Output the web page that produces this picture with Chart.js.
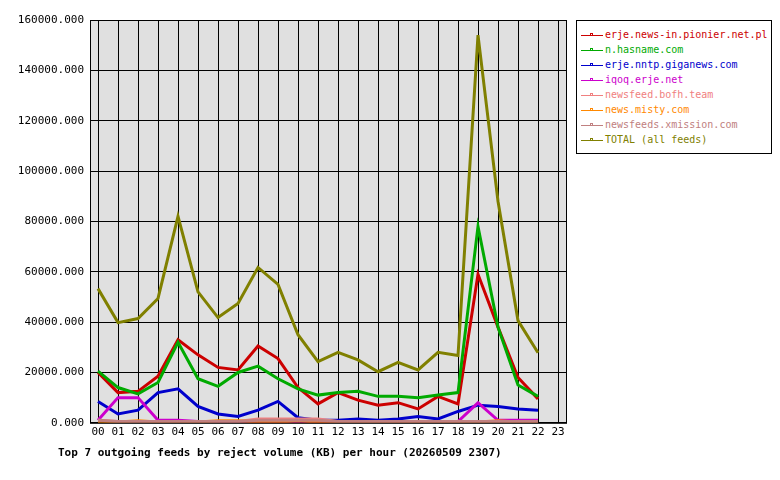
<!DOCTYPE html>
<html><head><meta charset="utf-8">
<script src="https://cdn.jsdelivr.net/npm/chart.js@4/dist/chart.umd.min.js"></script>
<style>
body{margin:0;background:#fff;font-family:"DejaVu Sans Mono",monospace;}
#wrap{position:relative;width:780px;height:480px;}
#legend{position:absolute;left:576px;top:20px;width:196px;height:134px;border:1px solid #000;background:#fff;font-size:10px;padding:6px 0 0 4px;box-sizing:border-box;}
#legend div{height:15px;line-height:15px;white-space:nowrap;}
#legend span.m{display:inline-block;width:22px;height:1px;vertical-align:middle;margin-right:2px;position:relative;}
#legend span.m i{position:absolute;left:9px;top:-2px;width:3px;height:3px;border:1px solid currentColor;box-sizing:border-box;}
#title{position:absolute;left:58px;top:446px;font-size:11px;font-weight:bold;white-space:nowrap;}
</style></head><body>
<div id="wrap"><canvas id="c" width="780" height="480"></canvas><div id="legend"></div><div id="title"></div></div>
<script>
const hours=["00","01","02","03","04","05","06","07","08","09","10","11","12","13","14","15","16","17","18","19","20","21","22","23"];
const names=["erje.news-in.pionier.net.pl","n.hasname.com","erje.nntp.giganews.com","iqoq.erje.net","newsfeed.bofh.team","news.misty.com","newsfeeds.xmission.com","TOTAL (all feeds)"];
const titleText="Top 7 outgoing feeds by reject volume (KB) per hour (20260509 2307)";
const colors=["#cc0000","#00aa00","#0000cc","#cc00cc","#f08080","#ff8800","#c08080","#808000"];
const pionier=[20000,12000,12500,18500,33000,27000,22000,21000,30500,25500,14000,7500,12000,9000,7000,8000,5500,10500,7500,59000,38000,18000,9500];
const hasname=[20500,14000,11500,16000,32000,17500,14500,20000,22500,17500,13500,11000,12000,12500,10500,10500,10000,11000,12000,78000,38000,15000,10500];
const giganews=[8500,3500,5000,12000,13500,6500,3500,2500,5000,8500,2000,1000,1000,1500,1000,1500,2500,1500,4500,7000,6500,5500,5000];
const iqoq=[1000,10000,10000,1000,1000,500,300,300,300,300,300,300,0,0,0,0,0,0,500,8000,1000,1000,1000];
const bofh=[1000,500,500,500,500,500,500,500,1500,1500,1500,1500,500,500,500,500,500,500,500,500,500,500,500];
const misty=[500,300,800,300,300,300,800,800,300,300,800,300,300,300,300,300,300,300,0,300,800,300,300];
const xmission=[1000,500,500,500,500,500,500,500,1000,1000,1000,1000,500,500,500,500,500,500,500,500,500,500,500];
const total=[53300,39800,41400,49400,82000,52000,41800,47400,61700,55000,35000,24300,28000,25000,20300,24000,21000,28000,26700,154000,88000,40600,27800];
const series=[pionier,hasname,giganews,iqoq,bofh,misty,xmission,total];
const order=[6,5,4,3,2,1,0,7];
const datasets=series.map((s,i)=>({label:names[i],data:s.map((v,j)=>({x:j,y:v})),borderColor:colors[i],borderWidth:3,pointRadius:0,tension:0,fill:false,order:order[i]}));
const bg={id:'bg',beforeDraw(c){const a=c.chartArea,x=c.ctx;x.save();x.fillStyle='#e0e0e0';x.fillRect(a.left,a.top,a.right-a.left,a.bottom-a.top);x.restore();},
afterDraw(c){const a=c.chartArea,x=c.ctx;x.save();x.strokeStyle='#000';x.lineWidth=1;x.strokeRect(a.left+0.5,a.top+0.5,a.right-a.left,a.bottom-a.top);x.restore();}};
Chart.defaults.font.family='"DejaVu Sans Mono", monospace';
Chart.defaults.font.size=11;
Chart.defaults.color='#000';
new Chart(document.getElementById('c'),{type:'line',data:{datasets},plugins:[bg],
options:{responsive:false,animation:false,
layout:{padding:{left:0,right:214,top:20,bottom:38}},
plugins:{legend:{display:false},tooltip:{enabled:false}},
scales:{x:{type:'linear',min:-0.4,max:23.4,afterBuildTicks(ax){ax.ticks=hours.map((h,i)=>({value:i}));},
ticks:{callback:(v)=>hours[v],maxRotation:0,autoSkip:false,padding:3},grid:{color:'#000',drawTicks:false},border:{display:false}},
y:{min:0,max:160000,ticks:{stepSize:20000,callback:v=>v.toFixed(3),padding:6},grid:{color:'#000',drawTicks:false},border:{display:false},afterFit(ax){ax.width=90;}}}}});
document.getElementById('title').textContent=titleText;
const lg=document.getElementById('legend');
names.forEach((n,i)=>{const d=document.createElement('div');d.style.color=colors[i];d.innerHTML='<span class="m" style="background:'+colors[i]+'"><i></i></span>';d.appendChild(document.createTextNode(n));lg.appendChild(d);});
</script></body></html>
